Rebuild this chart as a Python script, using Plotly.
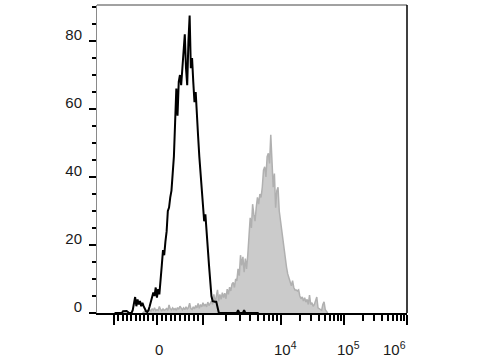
import numpy as np
import plotly.graph_objects as go

# ---- histogram data (counts per 4-channel bin on a 0-1024 channel scale) ----
BIN_WIDTH = 4
black_start_bin = 14
black_counts = [
    0, 0, 0, 0, 0, 0, 0, 0.5, 0.6, 0.6, 0.6, 0.3, 0, 0, 0,
    0.8, 2.5, 4.7, 2, 4, 2.5, 3.5, 2, 3, 2, 1.2, 0.5, 0.3, 0.8, 2,
    3.5, 4.5, 6, 5, 7.5, 4.5, 7, 5.5, 9, 14, 18.5, 17, 21, 24, 30,
    31, 34, 36, 41, 46, 56, 66, 58, 68, 70, 67, 72, 76, 82, 72,
    67, 80, 87.5, 72, 75, 68, 62, 65, 57, 52, 46, 41, 37, 32, 27,
    29, 22, 19, 14, 8, 5, 3.5, 3.3, 3.3, 3.3, 1.5, 0.2, 0, 0, 0,
    0, 0, 0, 0, 0, 0, 0, 0, 0, 0, 0, 0, 0.8, 0, 0, 0, 0, 0.8, 0, 0,
    0, 0, 0, 0, 0, 0, 0, 0, 0, 0,
]

gray_start_bin = 37
gray_counts = [
    0, 0.3, 0.5, 0.3, 0.8, 0.5, 1.0, 0.6, 1.2, 0.8, 1.5, 0.7, 1.0, 0.8,
    1.9, 1.0, 0.7, 1.2, 0.8, 1.0, 1.3, 0.8, 2.4, 1.2, 0.9, 1.5, 1.0, 1.3,
    0.8, 1.6, 1.1, 2.0, 1.2, 0.9, 1.5, 1.0, 1.8, 1.2, 1.6, 2.9, 1.3, 1.0,
    1.8, 1.2, 2.2, 1.5, 2.8, 1.4, 2.5, 1.8, 3.0, 2.0, 2.6, 1.8, 3.2, 2.2,
    2.8, 3.5, 2.5, 5.5, 3.0, 4.5, 6.8, 3.5, 5.5, 4.0, 6.0, 4.5, 5.8, 4.2,
    7.0, 5.5, 7.6, 6.5, 8.5, 9.0, 7.5, 10, 9.5, 13, 11, 17, 14, 16.5,
    12, 16, 13, 17, 22, 28, 25, 32, 29, 27, 31, 34, 32, 35, 34, 37,
    42, 43, 40, 46, 47, 44, 52.4, 45, 37, 41, 31, 36, 37, 30, 27, 24,
    21, 19, 15.6, 13.5, 11.5, 10.5, 9.5, 8, 9.5, 7.5, 6.8, 6.8, 6.5, 6.8,
    5, 4.2, 4.7, 3.5, 4.5, 3.2, 4.0, 2.5, 5.3, 2.5, 3.0, 2.0, 2.5, 3.5,
    4.7, 1.5, 1.2, 1.0, 0.8, 2.5, 3.3, 1.0, 0.3, 0,
]

# axis tick values (fluorescence intensity)
major_tick_values = [-1000, 0, 1000, 1e4, 1e5, 1e6]
labeled_tick_values = [0, 1e4, 1e5, 1e6]
labeled_tick_text = ["0", "10<sup>4</sup>", "10<sup>5</sup>", "10<sup>6</sup>"]
y_tick_values = [0, 20, 40, 60, 80]

# ---- biexponential-like display scale: intensity -> channel ----
DEC_EXP = [3, 4, 5, 6]
DEC_CH = [350.1, 607.8, 815.9, 1024.0]
ZERO_CH = 198.2
LIN_POS = (DEC_CH[0] - ZERO_CH) / 1000.0
LIN_NEG = 0.142


def to_channel(v):
    if v >= 1000:
        return float(np.interp(np.log10(v), DEC_EXP, DEC_CH))
    if v >= 0:
        return ZERO_CH + v * LIN_POS
    return ZERO_CH + v * LIN_NEG


minor_values = [s * 100 for s in range(-9, 10) if s != 0]
for e in (3, 4, 5):
    minor_values += [m * 10 ** e for m in range(2, 10)]

black_x = [(black_start_bin + i) * BIN_WIDTH + BIN_WIDTH / 2 for i in range(len(black_counts))]
gray_x = [(gray_start_bin + i) * BIN_WIDTH + BIN_WIDTH / 2 for i in range(len(gray_counts))]

FONT = "Liberation Sans, Arial, sans-serif"

fig = go.Figure()
fig.add_trace(go.Scatter(
    x=gray_x, y=gray_counts, mode="lines", fill="tozeroy",
    fillcolor="#cbcbcb", line=dict(color="#b0b0b0", width=1.5),
    hoverinfo="skip", showlegend=False,
))
fig.add_trace(go.Scatter(
    x=black_x, y=black_counts, mode="lines",
    line=dict(color="#000000", width=2),
    hoverinfo="skip", showlegend=False,
))

fig.update_layout(
    width=480, height=360,
    margin=dict(l=97, r=73, t=5, b=47),
    paper_bgcolor="white", plot_bgcolor="white",
    font=dict(family=FONT, color="#1a1a1a"),
    showlegend=False,
    xaxis=dict(
        range=[0, 1024], showgrid=False, zeroline=False,
        showline=True, linecolor="#000000", linewidth=2,
        tickmode="array", tickvals=[to_channel(v) for v in major_tick_values],
        showticklabels=False,
        ticks="outside", ticklen=10, tickwidth=2, tickcolor="#000000",
        minor=dict(tickmode="array", tickvals=[to_channel(v) for v in minor_values],
                   ticks="outside", ticklen=6, tickwidth=1.5, tickcolor="#000000"),
    ),
    yaxis=dict(
        range=[0, 90.6], showgrid=False, zeroline=False,
        showline=True, linecolor="#8a8a8a", linewidth=1,
        tickmode="array", tickvals=y_tick_values,
        ticks="outside", ticklen=7, tickwidth=2, tickcolor="#000000",
        tickfont=dict(size=15, family=FONT, color="#1a1a1a"),
        ticklabelshift=-6, ticklabelstandoff=4,
        minor=dict(dtick=5, ticks="outside", ticklen=4, tickwidth=1.5, tickcolor="#000000"),
    ),
)

# top and right frame lines
fig.add_shape(type="line", xref="paper", yref="paper", x0=0, x1=1, y0=1, y1=1,
              line=dict(color="#444444", width=1))
fig.add_shape(type="line", xref="paper", yref="paper", x0=1, x1=1, y0=0, y1=1,
              line=dict(color="#000000", width=1.5))

# x tick labels
label_shift = [2, 4, 4.5, -12.5]
for v, t, s in zip(labeled_tick_values, labeled_tick_text, label_shift):
    fig.add_annotation(
        x=to_channel(v), xref="x", y=0, yref="paper", text=t, showarrow=False,
        xanchor="center", yanchor="bottom", xshift=s, yshift=-47,
        font=dict(size=15, family=FONT, color="#1a1a1a"),
    )

fig.write_html("out.html")
